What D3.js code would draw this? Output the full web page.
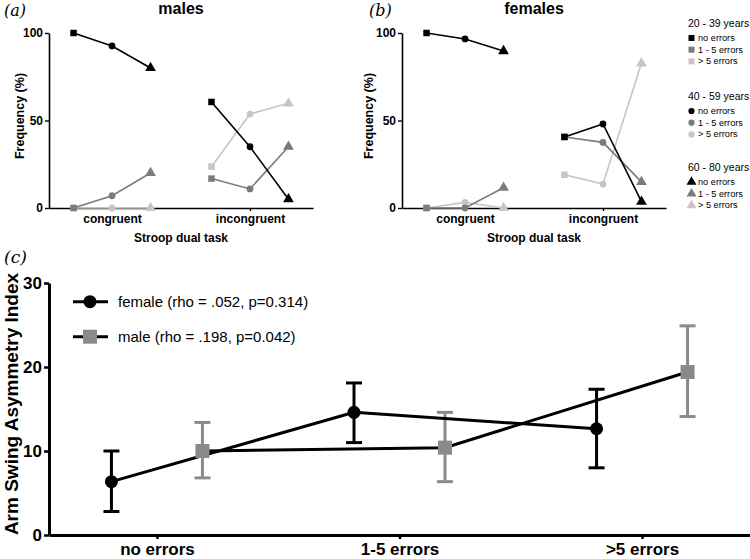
<!DOCTYPE html>
<html><head><meta charset="utf-8">
<script src="https://cdn.jsdelivr.net/npm/d3@7"></script>
<style>
body{margin:0;background:#fff;}
svg{display:block;font-family:"Liberation Sans",Arial,sans-serif;}
</style></head>
<body>
<svg id="chart" width="750" height="559"></svg>
<script>
// ---------- data: panels (a) and (b) ----------
const tasks = ["congruent", "incongruent"];
const ageGroups = ["20 - 39 years", "40 - 59 years", "60 - 80 years"];
const errorGroups = ["no errors", "1 - 5 errors", "> 5 errors"];
const freqTicks = [0, 50, 100];

// males, values per age group (20-39, 40-59, 60-80)
const maleCongNo = [100, 92.6, 80];
const maleCong15 = [0, 7, 20];
const maleCong5 = [0, 0, 0];
const maleIncNo = [60.6, 35, 5];
const maleInc15 = [16.8, 10.9, 35];
const maleInc5 = [23.6, 53.7, 59.8];

// females
const femCongNo = [100, 96.6, 89.7];
const femCong15 = [0, 0, 11.6];
const femCong5 = [0, 3.2, 0];
const femIncNo = [40.6, 48, 3.6];
const femInc15 = [40.6, 37.5, 14.9];
const femInc5 = [19, 13.7, 82.7];

// ---------- data: panel (c) ----------
const errorCats = ["no errors", "1-5 errors", ">5 errors"];
const sexes = ["female", "male"];
const sexLabels = ["female (rho = .052, p=0.314)", "male (rho = .198, p=0.042)"];
const asiTicks = [0, 10, 20, 30];
const femaleMean = [6.35, 14.6, 12.65];
const femaleUpper = [10.0, 18.1, 17.35];
const femaleLower = [2.8, 11.0, 8.0];
const maleMean = [10.0, 10.4, 19.4];
const maleUpper = [13.4, 14.6, 24.9];
const maleLower = [6.8, 6.35, 14.1];

// ---------- styles ----------
const errColors = ["#000000", "#7b7b7b", "#c6c6c6"];
const sexColors = ["#000000", "#8a8a8a"];
const svg = d3.select("#chart");

const symFor = [d3.symbolSquare, d3.symbolCircle, d3.symbolTriangle];
const symSize = [42, 36, 50];

function freqPanel(x0, title, tag, tagX, labOff, cong, inc) {
  const g = svg.append("g");
  const x = d3.scalePoint().domain(tasks).range([x0, x0 + 264]).padding(0.457);
  const off = d3.scalePoint().domain(ageGroups).range([-38.5, 38.5]);
  const y = d3.scaleLinear().domain([0, 100]).range([208, 33]);

  // axes
  const ya = g.append("g").attr("transform", `translate(${x0},0)`)
    .call(d3.axisLeft(y).tickValues(freqTicks).tickSize(4).tickPadding(2).tickSizeOuter(0));
  ya.select(".domain").attr("stroke-width", 1.6);
  ya.selectAll(".tick line").attr("stroke-width", 1.4);
  ya.selectAll("text").attr("font-size", 12).attr("font-weight", "bold").attr("fill", "#000")
    .attr("font-family", "Liberation Sans, Arial, sans-serif");
  const xa = g.append("g").attr("transform", "translate(0,208)")
    .call(d3.axisBottom(x).tickSize(3).tickPadding(3).tickSizeOuter(0));
  xa.select(".domain").attr("stroke-width", 1.6);
  xa.selectAll(".tick line").attr("stroke-width", 1.4);
  xa.selectAll("text").attr("font-size", 12).attr("font-weight", "bold").attr("fill", "#000")
    .attr("font-family", "Liberation Sans, Arial, sans-serif");

  // lines and markers
  [cong, inc].forEach((sets, ti) => {
    [2, 1, 0].forEach(ei => {
      const vals = sets[ei];
      const pts = vals.map((v, ai) => [x(tasks[ti]) + off(ageGroups[ai]), y(v)]);
      g.append("path").attr("d", d3.line()(pts)).attr("fill", "none")
        .attr("stroke", errColors[ei]).attr("stroke-width", 1.6);
      pts.forEach((p, ai) => {
        g.append("path").attr("d", d3.symbol().type(symFor[ai]).size(symSize[ai])())
          .attr("transform", `translate(${p[0]},${p[1]})`).attr("fill", errColors[ei]);
      });
    });
  });

  // labels
  g.append("text").attr("x", x0 + 132).attr("y", 14).attr("text-anchor", "middle")
    .attr("font-size", 16).attr("font-weight", "bold").text(title);
  g.append("text").attr("x", x0 + 132).attr("y", 242).attr("text-anchor", "middle")
    .attr("font-size", 12).attr("font-weight", "bold").text("Stroop dual task");
  g.append("text").attr("transform", `translate(${x0 - labOff},116) rotate(-90)`)
    .attr("text-anchor", "middle").attr("font-size", 12.5).attr("font-weight", "bold")
    .text("Frequency (%)");
  g.append("text").attr("x", tagX).attr("y", 16)
    .attr("font-family", "DejaVu Serif, serif").attr("font-style", "italic").attr("font-size", 16)
    .text(tag);
}

freqPanel(49, "males", "(a)", 4, 25,
  [maleCongNo, maleCong15, maleCong5], [maleIncNo, maleInc15, maleInc5]);
freqPanel(402, "females", "(b)", 369, 29,
  [femCongNo, femCong15, femCong5], [femIncNo, femInc15, femInc5]);

// legend for (a)/(b)
const lg = svg.append("g");
const groupTop = [27, 100, 171];
ageGroups.forEach((ag, ai) => {
  lg.append("text").attr("x", 688).attr("y", groupTop[ai]).attr("font-size", 10.5).text(ag);
  errorGroups.forEach((eg, ei) => {
    const yy = groupTop[ai] + 11 + ei * 11.7;
    lg.append("path").attr("d", d3.symbol().type(symFor[ai]).size(symSize[ai] * 0.85)())
      .attr("transform", `translate(691.5,${yy})`).attr("fill", errColors[ei]);
    lg.append("text").attr("x", 698).attr("y", yy + 3).attr("font-size", 9.2).text(eg);
  });
});

// ---------- panel (c) ----------
const gc = svg.append("g");
const xc = d3.scalePoint().domain(errorCats).range([49, 750]).padding(0.445);
const oc = d3.scalePoint().domain(sexes).range([-45.5, 45.5]);
const yc = d3.scaleLinear().domain([0, 30]).range([535, 283]);

const yca = gc.append("g").attr("transform", "translate(49,0)")
  .call(d3.axisLeft(yc).tickValues(asiTicks).tickSize(5).tickPadding(2).tickSizeOuter(0));
yca.select(".domain").attr("stroke-width", 3);
yca.selectAll(".tick line").attr("stroke-width", 2.5);
yca.selectAll("text").attr("font-size", 17).attr("font-weight", "bold").attr("fill", "#000")
  .attr("font-family", "Liberation Sans, Arial, sans-serif");
const xca = gc.append("g").attr("transform", "translate(0,535)")
  .call(d3.axisBottom(xc).tickSize(4).tickPadding(4).tickSizeOuter(0));
xca.select(".domain").attr("stroke-width", 3);
xca.selectAll(".tick line").attr("stroke-width", 2.5);
xca.selectAll("text").attr("font-size", 17).attr("font-weight", "bold").attr("fill", "#000")
  .attr("font-family", "Liberation Sans, Arial, sans-serif");

gc.append("text").attr("transform", "translate(18,404) rotate(-90)")
  .attr("text-anchor", "middle").attr("font-size", 19).attr("font-weight", "bold")
  .text("Arm Swing Asymmetry Index");
gc.append("text").attr("x", 4).attr("y", 263)
  .attr("font-family", "DejaVu Serif, serif").attr("font-style", "italic").attr("font-size", 17)
  .text("(c)");

const series = [
  {means: femaleMean, up: femaleUpper, lo: femaleLower},
  {means: maleMean, up: maleUpper, lo: maleLower}
];
series.forEach((s, si) => {
  s.means.forEach((m, ci) => {
    const cx = xc(errorCats[ci]) + oc(sexes[si]);
    const col = sexColors[si];
    gc.append("line").attr("x1", cx).attr("x2", cx).attr("y1", yc(s.up[ci])).attr("y2", yc(s.lo[ci]))
      .attr("stroke", col).attr("stroke-width", 3);
    [s.up[ci], s.lo[ci]].forEach(v => {
      gc.append("line").attr("x1", cx - 8).attr("x2", cx + 8).attr("y1", yc(v)).attr("y2", yc(v))
        .attr("stroke", col).attr("stroke-width", 3);
    });
  });
});
series.forEach((s, si) => {
  const pts = s.means.map((m, ci) => [xc(errorCats[ci]) + oc(sexes[si]), yc(m)]);
  gc.append("path").attr("d", d3.line()(pts)).attr("fill", "none")
    .attr("stroke", "#000").attr("stroke-width", 3);
});
series.forEach((s, si) => {
  s.means.forEach((m, ci) => {
    const cx = xc(errorCats[ci]) + oc(sexes[si]);
    if (si === 0) {
      gc.append("circle").attr("cx", cx).attr("cy", yc(m)).attr("r", 6.5).attr("fill", sexColors[0]);
    } else {
      gc.append("rect").attr("x", cx - 7).attr("y", yc(m) - 7).attr("width", 14).attr("height", 14)
        .attr("fill", sexColors[1]);
    }
  });
});

// legend (c)
const legY = [301.7, 336.7];
sexes.forEach((sx, si) => {
  gc.append("line").attr("x1", 73).attr("x2", 108).attr("y1", legY[si]).attr("y2", legY[si])
    .attr("stroke", "#000").attr("stroke-width", 3);
  if (si === 0) {
    gc.append("circle").attr("cx", 90).attr("cy", legY[si]).attr("r", 6.5).attr("fill", sexColors[0]);
  } else {
    gc.append("rect").attr("x", 83).attr("y", legY[si] - 7).attr("width", 14).attr("height", 14)
      .attr("fill", sexColors[1]);
  }
  gc.append("text").attr("x", 118).attr("y", legY[si] + 5.5).attr("font-size", 15).text(sexLabels[si]);
});
</script>
</body></html>
